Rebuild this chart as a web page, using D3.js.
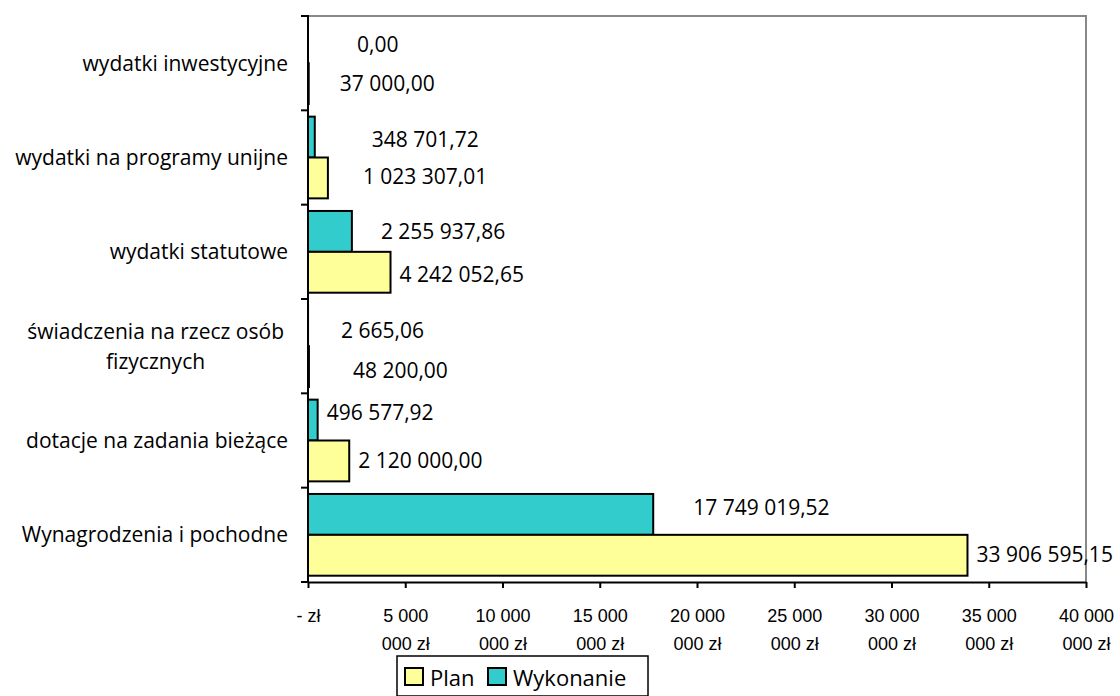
<!doctype html>
<html>
<head>
<meta charset="utf-8">
<script src="https://cdn.jsdelivr.net/npm/d3@7/dist/d3.min.js"></script>
<style>
  body { margin: 0; background: #fff; }
  svg { display: block; font-family: "Open Sans", sans-serif; }
</style>
</head>
<body>
<script>
// data
var categories = ["wydatki inwestycyjne", "wydatki na programy unijne", "wydatki statutowe",
                  "świadczenia na rzecz osób fizycznych", "dotacje na zadania bieżące", "Wynagrodzenia i pochodne"];
var planValues = [37000.00, 1023307.01, 4242052.65, 48200.00, 2120000.00, 33906595.15];
var wykonanieValues = [0.00, 348701.72, 2255937.86, 2665.06, 496577.92, 17749019.52];
var seriesNames = ["Plan", "Wykonanie"];

// labels in the original were dragged around by hand, [dx, dy] per category
var labelNudge = {
  Wykonanie: [[40, 2], [48, 2], [20, 0], [24, 5], [0, -8], [31, -7]],
  Plan:      [[22, 0], [26, -1], [0, 2], [35, 4], [0, 0], [0, -1]]
};

var W = 1120, H = 696;
var pl = { left: 308, right: 1086, top: 16, bottom: 582 };

var pl_PL = d3.formatLocale({ decimal: ",", thousands: " ", grouping: [3], currency: ["", " zł"] });
var fmtVal = pl_PL.format(",.2f");
var fmtInt = pl_PL.format(",d");

var svg = d3.select("body").append("svg").attr("width", W).attr("height", H);

var x = d3.scaleLinear().domain([0, 40e6]).range([pl.left, pl.right]);
var y0 = d3.scaleBand().domain(categories).range([pl.top, pl.bottom]);
var gap = 6.3;
var y1 = d3.scaleBand().domain(["Wykonanie", "Plan"]).range([gap, y0.bandwidth() - gap]);
var color = d3.scaleOrdinal().domain(seriesNames).range(["#FFFF99", "#33CCCC"]);

var rows = categories.map((c, i) => ({
  cat: c, i: i,
  values: [{ s: "Wykonanie", v: wykonanieValues[i], i: i }, { s: "Plan", v: planValues[i], i: i }]
}));

// grey frame on top and right
svg.append("path")
   .attr("d", `M${pl.left},${pl.top}H${pl.right}V${pl.bottom}`)
   .style("fill", "none").style("stroke", "#888").style("stroke-width", 2);

var g = svg.selectAll(".cat").data(rows).enter().append("g")
   .attr("class", "cat")
   .attr("transform", d => `translate(0,${y0(d.cat)})`);

g.selectAll("rect").data(d => d.values).enter().append("rect")
  .attr("x", x(0))
  .attr("y", d => y1(d.s))
  .attr("width", d => x(d.v) - x(0))
  .attr("height", y1.bandwidth())
  .style("fill", d => color(d.s))
  .style("stroke", "#000")
  .style("stroke-width", 2);

g.selectAll("text.val").data(d => d.values).enter().append("text")
  .attr("class", "val")
  .attr("x", d => x(d.v) + 9 + labelNudge[d.s][d.i][0])
  .attr("y", d => y1(d.s) + y1.bandwidth() / 2 + labelNudge[d.s][d.i][1])
  .attr("dy", "0.36em")
  .style("font-size", "21px")
  .style("fill", "#000")
  .text(d => fmtVal(d.v));

// x axis
var xAxis = svg.append("g")
   .attr("transform", `translate(0,${pl.bottom})`)
   .call(d3.axisBottom(x).ticks(8).tickSize(6).tickSizeOuter(0).tickFormat(""));
xAxis.select(".domain").style("stroke-width", 2);
xAxis.selectAll(".tick line").style("stroke-width", 2);

var tl = xAxis.selectAll(".tick").append("text")
   .style("font-size", "18px").style("fill", "#000")
   .attr("text-anchor", "middle");
tl.each(function(v) {
  var t = d3.select(this);
  if (v === 0) {
    t.append("tspan").attr("x", 0).attr("y", 40).text("- zł");
    return;
  }
  var s = fmtInt(v), k = s.lastIndexOf(" ");
  t.append("tspan").attr("x", 0).attr("y", 40).text(s.slice(0, k));
  t.append("tspan").attr("x", 0).attr("y", 68).text(s.slice(k + 1) + " zł");
});

// y axis, ticks between categories
svg.append("line")
   .attr("x1", pl.left).attr("x2", pl.left).attr("y1", pl.top - 1).attr("y2", pl.bottom + 1)
   .style("stroke", "#000").style("stroke-width", 2);
var bounds = categories.map(c => y0(c)).concat([pl.bottom]);
svg.selectAll(".ytick").data(bounds).enter().append("line")
   .attr("class", "ytick")
   .attr("x1", pl.left - 7).attr("x2", pl.left)
   .attr("y1", d => d).attr("y2", d => d)
   .style("stroke", "#000").style("stroke-width", 2);

// category labels, wrapped like Excel does
var catLabels = svg.selectAll(".catlab").data(categories).enter().append("text")
   .attr("class", "catlab")
   .style("font-size", "21px").style("fill", "#000");
catLabels.each(function(c) {
  var t = d3.select(this);
  var words = c.split(" "), lines = [], line = [];
  var probe = t.append("tspan");
  words.forEach(function(w) {
    line.push(w);
    probe.text(line.join(" "));
    if (probe.node().getComputedTextLength() > 275 && line.length > 1) {
      line.pop();
      lines.push(line.join(" "));
      line = [w];
    }
  });
  lines.push(line.join(" "));
  probe.remove();
  var cy = y0(c) + y0.bandwidth() / 2;
  if (lines.length === 1) {
    t.attr("text-anchor", "end").attr("x", 288).attr("y", cy).attr("dy", "0.36em").text(lines[0]);
  } else {
    var maxW = 0;
    lines.forEach(function(l) {
      var sp = t.append("tspan").text(l);
      maxW = Math.max(maxW, sp.node().getComputedTextLength());
      sp.remove();
    });
    var cx = 284 - maxW / 2;
    t.attr("text-anchor", "middle");
    lines.forEach(function(l, j) {
      t.append("tspan").attr("x", cx)
       .attr("y", cy + (j - (lines.length - 1) / 2) * 30)
       .attr("dy", "0.36em").text(l);
    });
  }
});

// legend
var lg = svg.append("g").attr("transform", "translate(397,656)");
lg.append("rect").attr("width", 251).attr("height", 40)
  .style("fill", "#fff").style("stroke", "#000").style("stroke-width", 1.5);
var items = [{ s: "Plan", x: 8, tx: 33 }, { s: "Wykonanie", x: 91, tx: 116 }];
var li = lg.selectAll(".li").data(items).enter().append("g")
  .attr("transform", d => `translate(${d.x},0)`);
li.append("rect").attr("y", 12).attr("width", 18).attr("height", 17)
  .style("fill", d => color(d.s)).style("stroke", "#000").style("stroke-width", 2);
li.append("text").attr("x", 25).attr("y", 30)
  .style("font-size", "22px").style("fill", "#000")
  .text(d => d.s);
</script>
</body>
</html>
